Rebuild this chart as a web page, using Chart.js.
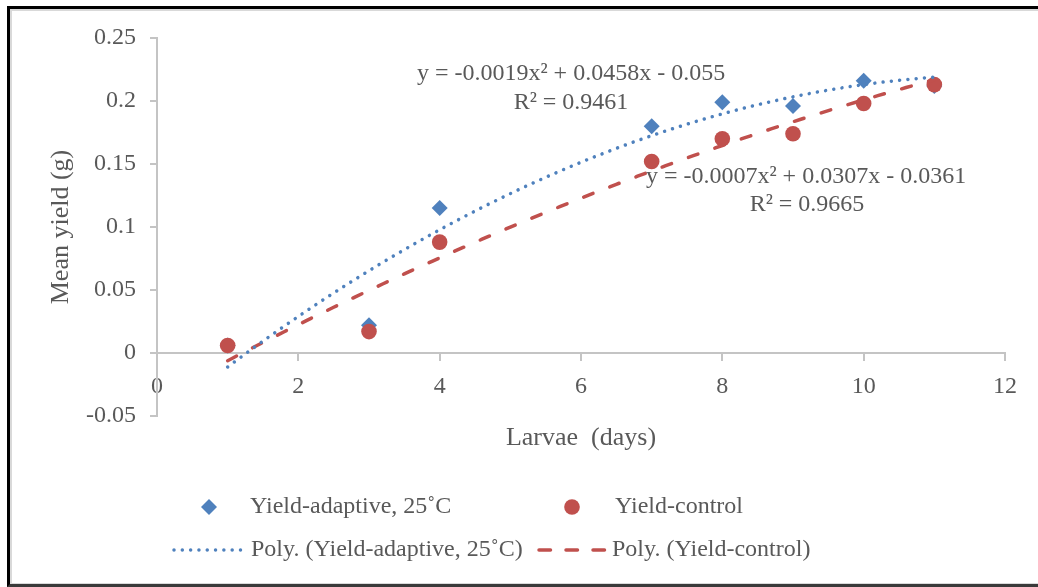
<!DOCTYPE html>
<html>
<head>
<meta charset="utf-8">
<title>Mean yield vs larvae days</title>
<script src="https://cdn.jsdelivr.net/npm/chart.js"></script>
<style>
  html, body { margin: 0; background: white; overflow: hidden; }
  #wrap { position: relative; width: 1038px; height: 587px; overflow: hidden; background: white; }
  #chart { position: absolute; left: 0; top: 0; }
  .frame { position: absolute; left: 7px; top: 6px; width: 1200px; height: 575px;
           border-top: 3px solid #000; border-left: 3px solid #000; border-bottom: 3px solid #3a3a3a; border-right: none; }
  .inner { position: absolute; left: 10px; top: 9px; width: 1200px; height: 572px;
           border-top: 2px solid #d9d9d9; border-left: 2px solid #d9d9d9; border-bottom: 2px solid #d9d9d9; border-right: none; }
</style>
</head>
<body>
<div id="wrap">
  <canvas id="chart" width="1038" height="587"></canvas>
  <div class="inner"></div>
  <div class="frame"></div>
</div>
<script>
// values
const days = [1, 3, 4, 7, 8, 9, 10, 11];
const yieldAdaptive = [0.006, 0.022, 0.115, 0.180, 0.199, 0.196, 0.216, 0.212];
const yieldControl = [0.006, 0.017, 0.088, 0.152, 0.170, 0.174, 0.198, 0.213];

// trendline coefficients as printed on the chart: [c0, c1, c2]
const polyAdaptive = [-0.055, 0.0458, -0.0019];
const polyControl = [-0.0361, 0.0307, -0.0007];
const eqAdaptive = ['y = -0.0019x² + 0.0458x - 0.055', 'R² = 0.9461'];
const eqControl = ['y = -0.0007x² + 0.0307x - 0.0361', 'R² = 0.9665'];

const xTicks = [0, 2, 4, 6, 8, 10, 12];
const yTicks = [-0.05, 0, 0.05, 0.1, 0.15, 0.2, 0.25];

const BLUE = '#4f81bd';
const RED = '#c0504d';
const TEXT = '#595959';
const AXIS = '#c4c4c4';
const SERIF = "'Liberation Serif', 'Times New Roman', serif";

const toPoints = (xs, ys) => xs.map((x, i) => ({x, y: ys[i]}));

function trend(coef, from, to) {
  const pts = [];
  for (let i = 0; i <= 100; i++) {
    const x = from + (to - from) * i / 100;
    pts.push({x, y: coef[0] + coef[1] * x + coef[2] * x * x});
  }
  return pts;
}

const textPlugin = {
  id: 'texts',
  afterDraw(chart) {
    const ctx = chart.ctx;
    const area = chart.chartArea;
    ctx.save();
    ctx.fillStyle = TEXT;
    ctx.textBaseline = 'middle';
    ctx.textAlign = 'center';

    // trendline equations
    ctx.font = '24px ' + SERIF;
    ctx.fillText(eqAdaptive[0], 571, 74);
    ctx.fillText(eqAdaptive[1], 571, 103);
    ctx.fillText(eqControl[0], 806, 177);
    ctx.fillText(eqControl[1], 807, 205);

    // x axis title
    ctx.font = '26px ' + SERIF;
    ctx.fillText('Larvae  (days)', (area.left + area.right) / 2, 438);

    // legend
    ctx.font = '24px ' + SERIF;
    ctx.textAlign = 'left';
    ctx.fillStyle = BLUE;
    ctx.beginPath();
    ctx.moveTo(209 - 8, 507); ctx.lineTo(209, 499); ctx.lineTo(209 + 8, 507); ctx.lineTo(209, 515);
    ctx.closePath(); ctx.fill();
    ctx.fillStyle = RED;
    ctx.beginPath(); ctx.arc(572, 507, 7.8, 0, Math.PI * 2); ctx.fill();

    ctx.lineWidth = 3.5;
    ctx.lineCap = 'round';
    ctx.strokeStyle = BLUE;
    ctx.setLineDash([0.01, 8.3]);
    ctx.beginPath(); ctx.moveTo(174, 550); ctx.lineTo(244, 550); ctx.stroke();
    ctx.strokeStyle = RED;
    ctx.setLineDash([11.5, 15.5]);
    ctx.beginPath(); ctx.moveTo(539, 550); ctx.lineTo(605, 550); ctx.stroke();
    ctx.setLineDash([]);

    ctx.fillStyle = TEXT;
    ctx.fillText('Yield-adaptive, 25˚C', 250, 507);
    ctx.fillText('Yield-control', 615, 507);
    ctx.fillText('Poly. (Yield-adaptive, 25˚C)', 251, 550);
    ctx.fillText('Poly. (Yield-control)', 612, 550);
    ctx.restore();
  }
};

new Chart(document.getElementById('chart').getContext('2d'), {
  type: 'scatter',
  data: {
    datasets: [
      {
        label: 'Poly. (Yield-adaptive, 25˚C)',
        type: 'line',
        data: trend(polyAdaptive, days[0], days[days.length - 1]),
        borderColor: BLUE,
        borderWidth: 3.5,
        borderDash: [0.01, 8.3],
        borderCapStyle: 'round',
        pointRadius: 0,
        fill: false,
        tension: 0
      },
      {
        label: 'Poly. (Yield-control)',
        type: 'line',
        data: trend(polyControl, days[0], days[days.length - 1]),
        borderColor: RED,
        borderWidth: 3.5,
        borderDash: [10, 18],
        borderCapStyle: 'round',
        pointRadius: 0,
        fill: false,
        tension: 0
      },
      {
        label: 'Yield-control',
        data: toPoints(days, yieldControl),
        pointStyle: 'circle',
        pointRadius: 7.8,
        pointHoverRadius: 7.8,
        backgroundColor: RED,
        borderColor: RED,
        borderWidth: 0
      },
      {
        label: 'Yield-adaptive, 25˚C',
        data: toPoints(days, yieldAdaptive),
        pointStyle: 'rectRot',
        pointRadius: 8,
        pointHoverRadius: 8,
        backgroundColor: BLUE,
        borderColor: BLUE,
        borderWidth: 0
      }
    ]
  },
  options: {
    responsive: false,
    animation: false,
    layout: { padding: { left: 10, top: 38, right: 33, bottom: 171 } },
    plugins: {
      legend: { display: false },
      tooltip: { enabled: false }
    },
    scales: {
      x: {
        type: 'linear',
        min: xTicks[0],
        max: xTicks[xTicks.length - 1],
        position: { y: 0 },
        afterBuildTicks: s => { s.ticks = xTicks.map(v => ({value: v})); },
        ticks: { color: TEXT, font: { family: SERIF, size: 24 }, padding: 12, maxRotation: 0 },
        grid: { drawOnChartArea: false, drawTicks: true, tickLength: 7, color: AXIS, lineWidth: 2 },
        border: { display: true, color: AXIS, width: 2 }
      },
      y: {
        type: 'linear',
        min: yTicks[0],
        max: yTicks[yTicks.length - 1],
        afterBuildTicks: s => { s.ticks = yTicks.map(v => ({value: v})); },
        afterFit: s => { s.width = 147; },
        ticks: {
          color: TEXT,
          font: { family: SERIF, size: 24 },
          padding: 14,
          callback: v => String(Number(v.toFixed(2)))
        },
        grid: { drawOnChartArea: false, drawTicks: true, tickLength: 7, color: AXIS, lineWidth: 2 },
        border: { display: true, color: AXIS, width: 2 },
        title: {
          display: true,
          text: 'Mean yield (g)',
          color: TEXT,
          font: { family: SERIF, size: 26 },
          padding: { top: 36, bottom: 0 }
        }
      }
    }
  },
  plugins: [textPlugin]
});
</script>
</body>
</html>
